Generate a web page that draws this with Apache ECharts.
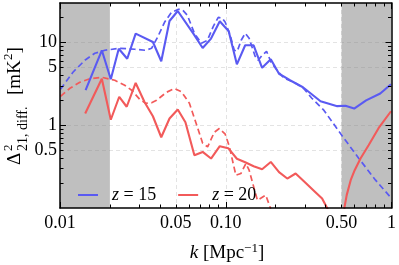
<!DOCTYPE html>
<html><head><meta charset="utf-8">
<script src="https://cdn.jsdelivr.net/npm/echarts@6/dist/echarts.min.js"></script>
<style>html,body{margin:0;padding:0;background:#fff}#c{width:399px;height:265px}</style>
</head><body><div id="c"></div>
<script>
// ---- data ----
const kSolid15 = [0.01427,0.01788,0.02025,0.02262,0.02544,0.02861,0.03635,0.04082,0.04578,0.05134,0.06378,0.07257,0.08151,0.09204,0.1042,0.1167,0.1310,0.1473,0.1657,0.1869,0.2096,0.2440,0.2922,0.3731,0.4708,0.5272,0.5953,0.7028,0.8553,0.993];
const solid15 = [2.65,8.05,3.59,8.39,6.36,12.81,10.14,5.93,18.19,24.02,12.81,8.58,11.15,18.03,13.65,5.45,9.25,9.25,4.95,6.27,4.19,3.50,2.88,1.95,1.70,1.72,1.59,2.00,2.42,3.13];
const kModel15 = [0.01007,0.01197,0.01413,0.01623,0.01864,0.02293,0.02821,0.03285,0.03569,0.03878,0.04272,0.04707,0.05184,0.05479,0.05871,0.06468,0.07127,0.07743,0.08414,0.09016,0.09528,0.0993,0.1064,0.1125,0.1173,0.1239,0.1310,0.1384,0.1504,0.1568,0.1657,0.1763,0.1877,0.2039,0.2246,0.2406,0.2579,0.2763,0.2961,0.3307,0.3905,0.5008,0.6337,0.8015,0.986];
const model15 = [2.72,4.37,6.10,7.41,8.05,8.51,8.28,8.05,8.51,11.56,17.54,23.16,25.18,24.83,21.30,12.91,9.78,10.63,15.69,20.15,19.60,17.54,12.22,8.05,7.83,10.63,12.91,11.24,6.81,6.10,7.00,7.83,5.77,4.62,3.70,3.50,3.31,3.04,2.76,2.12,1.52,0.757,0.400,0.217,0.135];
const kSolid20 = [0.01419,0.01788,0.02025,0.02277,0.02526,0.02861,0.03240,0.03635,0.04082,0.04578,0.05134,0.05711,0.06468,0.07257,0.08151,0.09204,0.1035,0.1167,0.1310,0.1473,0.1657,0.1869,0.2096,0.2350,0.2640,0.2961,0.3400,0.3814,0.4127];
const solid20 = [1.384,3.644,1.165,2.209,1.673,3.243,1.896,1.284,0.716,1.205,1.547,1.087,0.434,0.476,0.396,0.558,0.528,0.394,0.357,0.320,0.294,0.360,0.271,0.227,0.261,0.211,0.162,0.130,0.0967];
const kSolid20b = [0.5185,0.5367,0.5673,0.5995,0.6513,0.7274,0.8354,0.993];
const solid20b = [0.098,0.143,0.217,0.286,0.400,0.574,0.920,1.476];
const kModel20 = [0.01007,0.01148,0.01318,0.01514,0.01780,0.02140,0.02457,0.02707,0.03023,0.03285,0.03569,0.03825,0.04392,0.04906,0.05404,0.06036,0.06622,0.07257,0.07775,0.08529,0.09141,0.0993,0.1050,0.1151,0.1234,0.1322,0.1384,0.1552,0.1743,0.1869];
const model20 = [2.239,2.798,3.306,3.644,3.800,3.496,3.041,2.647,2.061,1.844,1.869,2.004,2.503,2.775,2.539,1.844,1.057,0.606,0.547,0.823,0.912,0.779,0.558,0.249,0.261,0.345,0.286,0.124,0.143,0.0975];
const xTickVals = [0.01,0.05,0.1,0.5,1];
const xTickText = ['0.01','0.05','0.10','0.50','1'];
const xMajor = [0.01,0.1,1];
const xMinor = [0.02,0.03,0.04,0.05,0.06,0.07,0.08,0.09,0.2,0.3,0.4,0.5,0.6,0.7,0.8,0.9];
const yTickVals = [0.5,1,5,10];
const yTickText = ['0.5','1','5','10'];
const yMajor = [1,10];
const yMinor = [0.2,0.3,0.4,0.5,0.6,0.7,0.8,0.9,2,3,4,5,6,7,8,9,20];
const shadeBands = [[0.01,0.02],[0.5,1]];
const names = ['z = 15','z = 20'];

const BLUE = '#5a5af2', RED = '#f25a5a';
const FONT = 'Liberation Serif';

function fmt(vals, texts){
  return v => { const i = vals.findIndex(t => Math.abs(Math.log10(t) - Math.log10(v)) < 1e-6); return i >= 0 ? texts[i] : ''; };
}
function ax(dim, pos, o){
  const base = dim === 'x' ? {min:0.01, max:1} : {min:0.1, max:30};
  return {
    type:'log', logBase:10, min:base.min, max:base.max, position:pos, z:o.z == null ? 10 : o.z,
    axisLine:{show:!!o.line, onZero:false, lineStyle:{color:'#000', width:1.5}},
    axisTick:{show:!!o.ticks, inside:true, length:o.len || 4, customValues:o.ticks || o.grid, lineStyle:{color:'#000', width:1}},
    axisLabel:o.labels ? {show:true, customValues:o.labels, formatter:o.fmt, margin:o.margin, fontSize:18, fontFamily:FONT, color:'#000'} : {show:false},
    splitLine:o.grid ? {show:true, lineStyle:{color:'#dcdcdc', width:0.8, type:[4,3]}} : {show:false},
    minorTick:{show:false}, minorSplitLine:{show:false}
  };
}
const xAxes = [
  ax('x','bottom',{line:true, ticks:xMajor, len:6, labels:xTickVals, fmt:fmt(xTickVals,xTickText), margin:6}),
  ax('x','bottom',{ticks:xMinor, len:3.5}),
  ax('x','top',{line:true, ticks:xMajor, len:6}),
  ax('x','top',{ticks:xMinor, len:3.5}),
  Object.assign(ax('x','bottom',{grid:[0.05,0.1,0.5], z:0}), {axisTick:{show:false, customValues:[0.05,0.1,0.5]}})
];
const yAxes = [
  ax('y','left',{line:true, ticks:yMajor, len:6, labels:yTickVals, fmt:fmt(yTickVals,yTickText), margin:3}),
  ax('y','left',{ticks:yMinor, len:3.5}),
  ax('y','right',{line:true, ticks:yMajor, len:6}),
  ax('y','right',{ticks:yMinor, len:3.5}),
  Object.assign(ax('y','left',{grid:yTickVals, z:0}), {axisTick:{show:false, customValues:yTickVals}})
];

const pairs = (k, v) => k.map((x, i) => [x, v[i]]);
const series = [
  {name:'model15', type:'line', data:pairs(kModel15, model15), symbol:'none', lineStyle:{color:BLUE, width:1.7, type:[6,3.5]}, z:2},
  {name:'model20', type:'line', data:pairs(kModel20, model20), symbol:'none', lineStyle:{color:RED, width:1.7, type:[6,3.5]}, z:2},
  {name:names[0], type:'line', data:pairs(kSolid15, solid15), symbol:'none', color:BLUE, lineStyle:{color:BLUE, width:2.1}, z:3},
  {name:names[1], type:'line', data:pairs(kSolid20, solid20), symbol:'none', color:RED, lineStyle:{color:RED, width:2.1}, z:3},
  {name:names[1], type:'line', data:pairs(kSolid20b, solid20b), symbol:'none', color:RED, lineStyle:{color:RED, width:2.1}, z:3},
  {name:'shade', type:'line', data:[[0.01, 1]], symbol:'none', lineStyle:{opacity:0}, z:5, silent:true,
   markArea:{silent:true, itemStyle:{color:'rgba(128,128,128,0.5)'}, data:shadeBands.map(b => [{xAxis:b[0]},{xAxis:b[1]}])}}
];

const chart = echarts.init(document.getElementById('c'), null, {renderer:'canvas'});
chart.setOption({
  animation:false,
  backgroundColor:'#fff',
  grid:{left:60, right:6, top:3, bottom:57, containLabel:false},
  xAxis:xAxes,
  yAxis:yAxes,
  legend:{
    data:names, left:73, top:181, icon:'rect', itemWidth:20, itemHeight:2, itemGap:22,
    formatter:n => '{i|z}{t| = ' + n.split('= ')[1] + '}',
    textStyle:{padding:[0,0,0,9], rich:{i:{fontFamily:FONT, fontStyle:'italic', fontSize:18, color:'#000'}, t:{fontFamily:FONT, fontSize:18, color:'#000'}}}
  },
  series:series,
  graphic:[
    {type:'group', x:15, y:165, rotation:Math.PI/2, children:[
      {type:'text', x:0, y:0, style:{text:'Δ', font:'19px "'+FONT+'"', fill:'#000', verticalAlign:'middle', align:'left'}},
      {type:'text', x:14, y:-6, style:{text:'2', font:'13px "'+FONT+'"', fill:'#000', verticalAlign:'middle', align:'left'}},
      {type:'text', x:14, y:8, style:{text:'21, diff.', font:'14px "'+FONT+'"', fill:'#000', verticalAlign:'middle', align:'left'}},
      {type:'text', x:70, y:0, style:{text:'[mK', font:'19px "'+FONT+'"', fill:'#000', verticalAlign:'middle', align:'left'}},
      {type:'text', x:105, y:-6, style:{text:'2', font:'13px "'+FONT+'"', fill:'#000', verticalAlign:'middle', align:'left'}},
      {type:'text', x:111.5, y:0, style:{text:']', font:'19px "'+FONT+'"', fill:'#000', verticalAlign:'middle', align:'left'}}
    ]},
    {type:'text', x:227, y:253, style:{
      text:'{i|k}{t| [Mpc}{s|−1}{t|]}', align:'center', verticalAlign:'middle',
      rich:{i:{font:'italic 19px "'+FONT+'"', fill:'#000', lineHeight:22}, t:{font:'19px "'+FONT+'"', fill:'#000', lineHeight:22}, s:{font:'13px "'+FONT+'"', fill:'#000', verticalAlign:'top', lineHeight:22}}
    }}
  ]
});
</script></body></html>
